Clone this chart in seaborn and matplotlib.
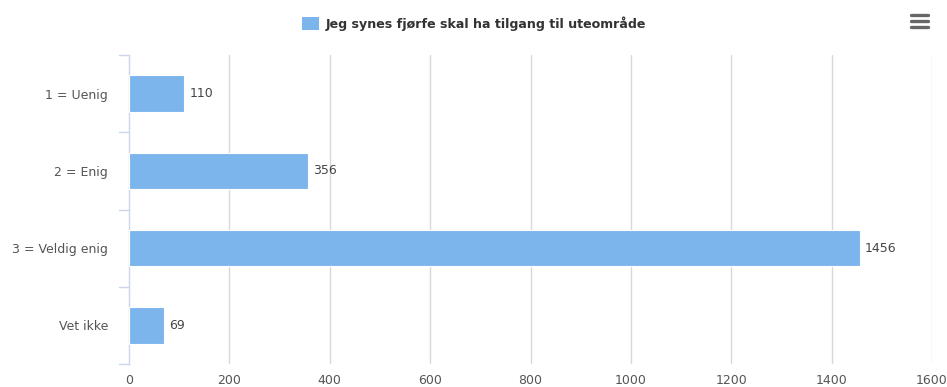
import matplotlib
matplotlib.use("Agg")
import matplotlib.pyplot as plt
from matplotlib.lines import Line2D
from matplotlib.patches import Rectangle
import seaborn as sns
import pandas as pd

categories = ["1 = Uenig", "2 = Enig", "3 = Veldig enig", "Vet ikke"]
counts = [110, 356, 1456, 69]
series_name = "Jeg synes fjørfe skal ha tilgang til uteområde"
x_ticks = [0, 200, 400, 600, 800, 1000, 1200, 1400, 1600]

bar_color = "#7cb5ec"
text_color = "#555555"
label_color = "#444444"
axis_color = "#ccd6eb"
grid_color = "#d8d8d8"

sns.set_theme(style="white")
plt.rcParams["font.family"] = ["DejaVu Sans"]

df = pd.DataFrame({"category": categories, "count": counts})

fig = plt.figure(figsize=(9.47, 3.87), dpi=100)
ax = fig.add_axes([129 / 947, 1 - 364 / 387, (932 - 129) / 947, (364 - 55) / 387])

sns.barplot(data=df, x="count", y="category", color=bar_color, saturation=1,
            width=0.47, edgecolor="white", linewidth=0.8, ax=ax, zorder=3)

ax.set_xlim(0, 1600)
ax.set_ylim(3.5, -0.5)
ax.set_xticks(x_ticks)
ax.set_xticklabels([str(t) for t in x_ticks], color=text_color, fontsize=9)
ax.tick_params(axis="x", length=0, pad=7)
ax.tick_params(axis="y", length=0, pad=15, labelsize=9, labelcolor=text_color)
ax.set_xlabel("")
ax.set_ylabel("")

# vertical grid lines
for t in x_ticks[1:]:
    ax.axvline(t, color=grid_color, linewidth=1, zorder=1)

for side in ["top", "right", "bottom"]:
    ax.spines[side].set_visible(False)
ax.spines["left"].set_color(axis_color)
ax.spines["left"].set_linewidth(1)

# category boundary ticks on the left axis
for b in [-0.5, 0.5, 1.5, 2.5, 3.5]:
    ax.plot([-0.012, 0], [b, b], transform=ax.get_yaxis_transform(),
            color=axis_color, linewidth=1, clip_on=False)

# value labels
for i, v in enumerate(counts):
    ax.text(v + 10, i, str(v), va="center", ha="left", fontsize=9, color=label_color)

# legend at top
fig.patches.append(Rectangle((302 / 947, 1 - 30 / 387), 17 / 947, 13 / 387,
                             transform=fig.transFigure, facecolor=bar_color,
                             edgecolor="none"))
fig.text(326 / 947, 1 - 24 / 387, series_name, fontsize=9.1, fontweight="bold",
         color="#333333", va="center", ha="left")

# menu icon
for yy in [15, 21, 27]:
    fig.add_artist(Line2D([911 / 947, 928 / 947], [1 - yy / 387, 1 - yy / 387],
                          transform=fig.transFigure, color="#666666",
                          linewidth=2.4, solid_capstyle="round"))

fig.savefig("out.png", dpi=100, facecolor="white")
